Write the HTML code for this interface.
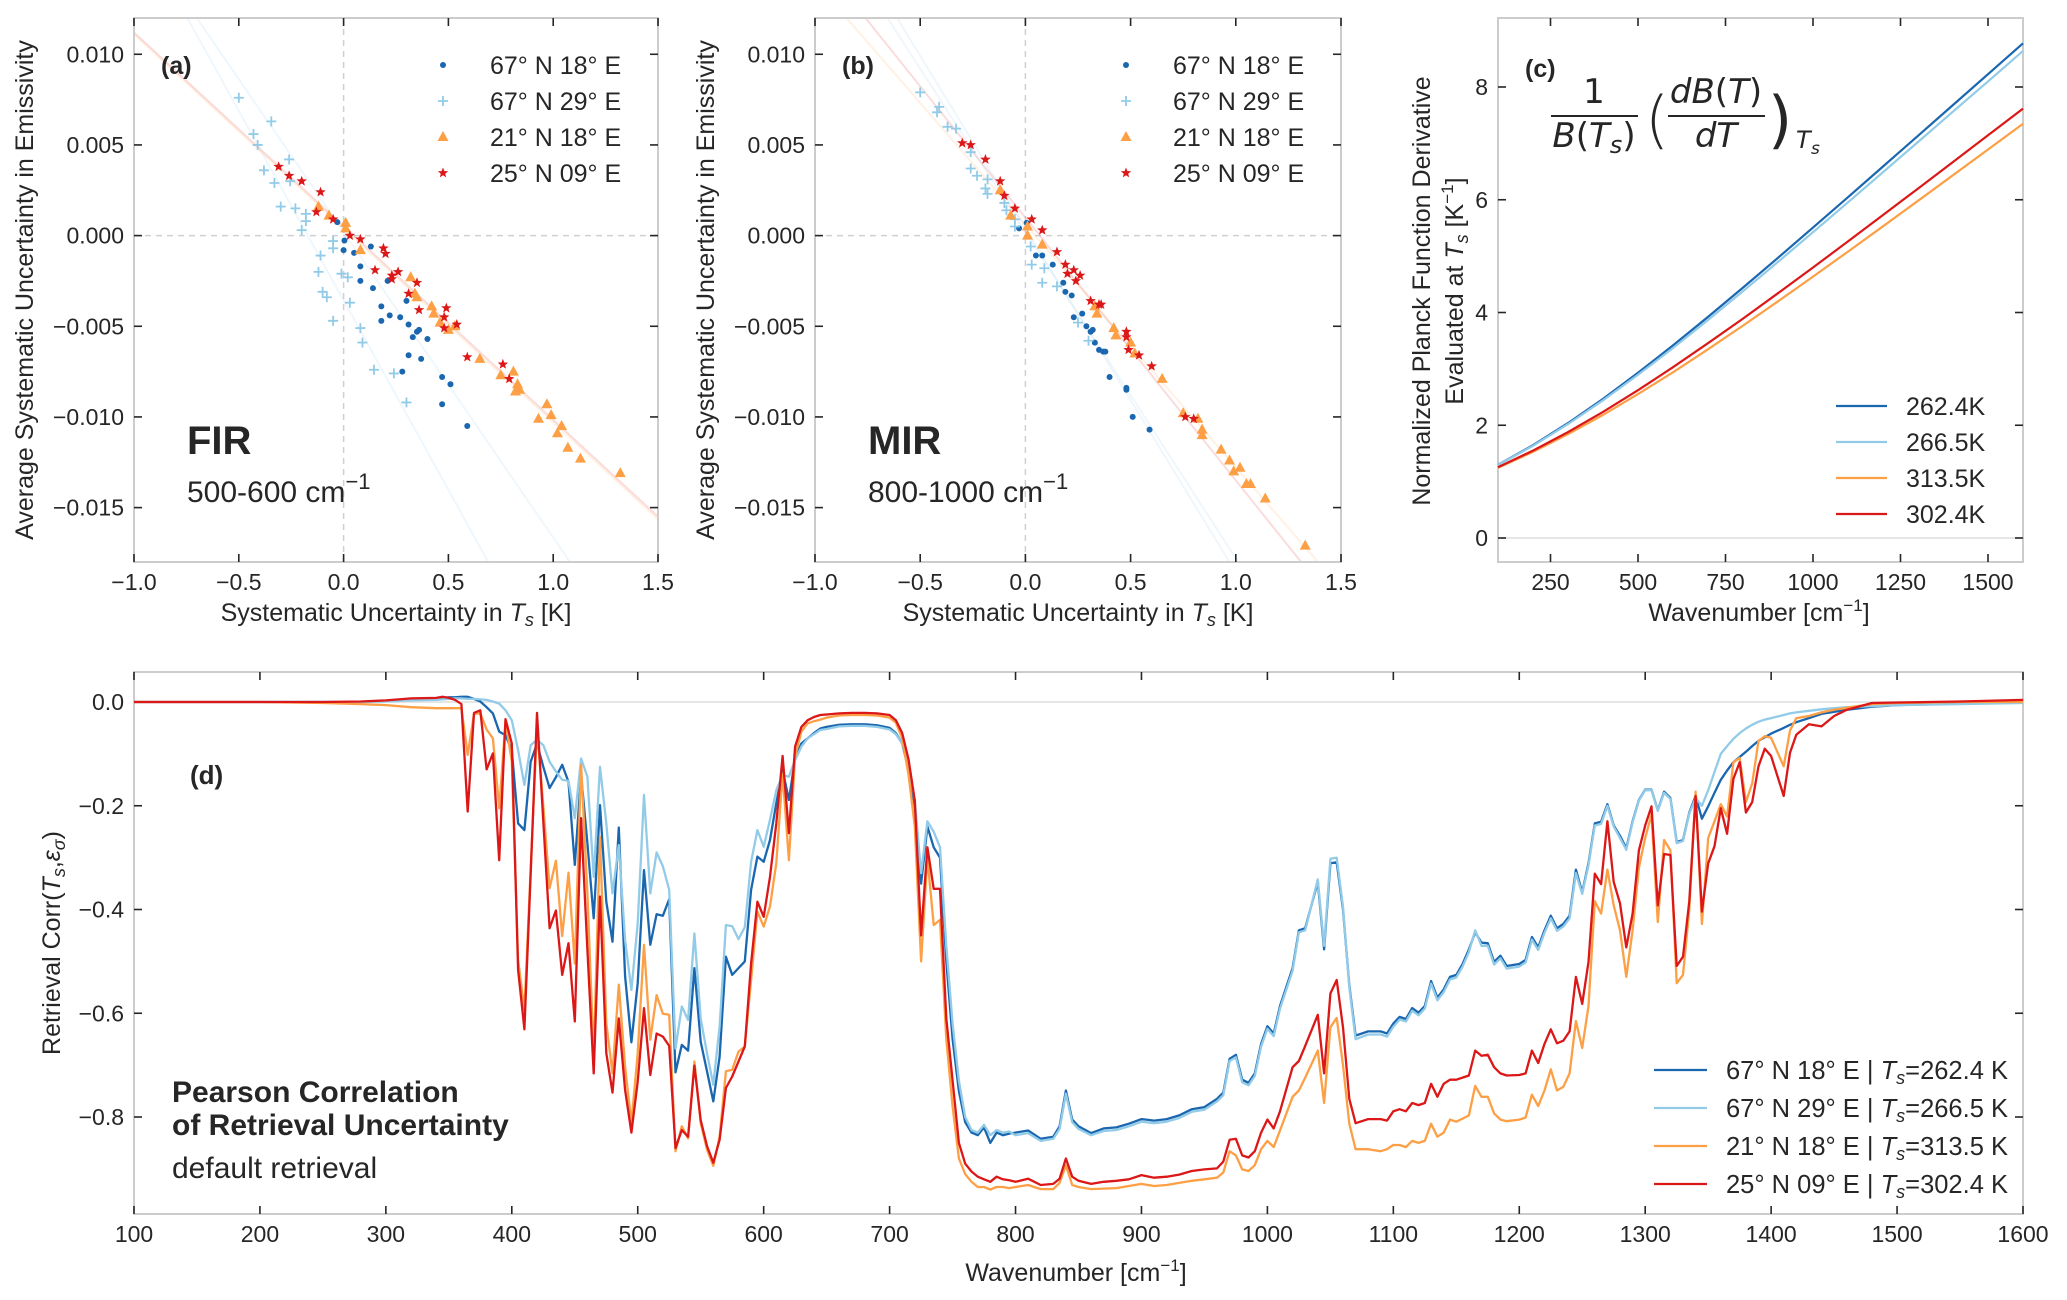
<!DOCTYPE html>
<html><head><meta charset="utf-8"><title>Retrieval uncertainty figure</title>
<style>
html,body{margin:0;padding:0;background:#fff;}
svg{display:block;font-family:"Liberation Sans",Arial,sans-serif;}
text{fill:#262626;}
</style></head>
<body>
<svg id="fig" xmlns="http://www.w3.org/2000/svg" width="2067" height="1300" viewBox="0 0 2067 1300"></svg>
<script>
// ---------- Panel (a) FIR scatter data ----------
const aDarkX=[-0.03,0.004,0,0.05,0.13,0.08,0.08,0.14,0.21,0.18,0.18,0.22,0.27,0.30,0.31,0.33,0.35,0.36,0.40,0.31,0.37,0.28,0.47,0.51,0.47,0.59];
const aDarkY=[0.00074,-0.00027,-0.0008,-0.00095,-0.0006,-0.0017,-0.0025,-0.0029,-0.0025,-0.0039,-0.0047,-0.0044,-0.0045,-0.0036,-0.0049,-0.0056,-0.0053,-0.0052,-0.0057,-0.0066,-0.0068,-0.0075,-0.0078,-0.0082,-0.0093,-0.0105];
const aLightX=[-0.50,-0.345,-0.43,-0.41,-0.26,-0.38,-0.33,-0.255,-0.30,-0.23,-0.18,-0.18,-0.2,-0.05,-0.05,-0.11,-0.12,-0.01,0.02,-0.1,-0.08,0.03,-0.05,0.08,0.09,0.145,0.24,0.30];
const aLightY=[0.0076,0.0063,0.0056,0.005,0.0042,0.0036,0.0029,0.003,0.0016,0.0015,0.0012,0.0008,0.0003,-0.0003,-0.0007,-0.0011,-0.002,-0.0021,-0.0023,-0.0031,-0.0034,-0.0037,-0.0047,-0.0051,-0.0059,-0.0074,-0.0076,-0.0092];
const aOrangeX=[-0.12,-0.07,0.01,0.01,0.08,0.32,0.34,0.35,0.42,0.43,0.46,0.50,0.53,0.65,0.75,0.81,0.83,0.84,0.82,0.97,0.99,0.93,1.04,1.02,1.07,1.13,1.32];
const aOrangeY=[0.0016,0.0011,0.0007,0.0004,-0.0008,-0.0023,-0.0032,-0.0034,-0.0039,-0.0043,-0.0048,-0.0052,-0.005,-0.0068,-0.0077,-0.0075,-0.0082,-0.0085,-0.0086,-0.0093,-0.0099,-0.0101,-0.0105,-0.0109,-0.0117,-0.0123,-0.0131];
const aRedX=[-0.31,-0.26,-0.20,-0.11,-0.13,-0.05,0.03,0.08,0.19,0.2,0.15,0.26,0.23,0.23,0.35,0.31,0.36,0.49,0.48,0.54,0.48,0.59,0.76,0.79];
const aRedY=[0.0038,0.0033,0.003,0.0024,0.0013,0.0009,0,-0.0002,-0.0007,-0.001,-0.0019,-0.002,-0.0022,-0.0024,-0.0026,-0.0032,-0.0041,-0.004,-0.0045,-0.0049,-0.0051,-0.0067,-0.0071,-0.0079];
const aFitSlopes=[-0.01068,-0.0209,-0.01685,-0.0107];
const aFitIntercepts=[0.00052,-0.00357,0.0002,0.0004];
// ---------- Panel (b) MIR scatter data ----------
const bDarkX=[-0.03,0.006,0.05,0.08,0.13,0.18,0.19,0.22,0.23,0.27,0.29,0.31,0.32,0.33,0.35,0.37,0.38,0.40,0.48,0.48,0.51,0.59];
const bDarkY=[0.0004,0.0007,-0.0011,-0.0011,-0.0016,-0.0026,-0.0031,-0.0033,-0.0045,-0.0043,-0.005,-0.0053,-0.0052,-0.0059,-0.0063,-0.0064,-0.0064,-0.0078,-0.0084,-0.0085,-0.01,-0.0107];
const bLightX=[-0.50,-0.41,-0.42,-0.37,-0.33,-0.26,-0.26,-0.23,-0.18,-0.19,-0.18,-0.1,-0.09,-0.05,-0.05,0.025,0.03,0.09,0.08,0.15,0.25,0.30];
const bLightY=[0.0079,0.0071,0.0068,0.006,0.0059,0.0046,0.0037,0.0033,0.0031,0.0026,0.0023,0.0018,0.0014,0.0009,0.0005,-0.0006,-0.0016,-0.0018,-0.0026,-0.0028,-0.0048,-0.0058];
const bOrangeX=[-0.12,-0.07,0.01,0.01,0.08,0.33,0.34,0.42,0.43,0.50,0.52,0.65,0.75,0.82,0.84,0.84,0.93,0.97,0.99,1.02,1.05,1.07,1.14,1.33];
const bOrangeY=[0.0025,0.0011,0.0005,0,-0.0005,-0.0039,-0.0043,-0.0051,-0.0055,-0.0059,-0.0065,-0.0079,-0.0098,-0.0101,-0.0107,-0.011,-0.0118,-0.0124,-0.013,-0.0128,-0.0137,-0.0137,-0.0145,-0.0171];
const bRedX=[-0.30,-0.26,-0.19,-0.12,-0.1,-0.05,0.03,0.08,0.15,0.19,0.2,0.23,0.26,0.24,0.31,0.35,0.36,0.48,0.48,0.49,0.54,0.60,0.76,0.80];
const bRedY=[0.0051,0.005,0.0042,0.003,0.0022,0.0015,0.0009,0.0003,-0.0009,-0.0016,-0.0021,-0.0019,-0.0022,-0.0025,-0.0036,-0.0038,-0.0038,-0.0053,-0.0056,-0.0063,-0.0066,-0.0072,-0.01,-0.0101];
const bFitSlopes=[-0.01449,-0.01339,-0.01899,-0.0180];
const bFitIntercepts=[0.00099,0.00062,0.00042,0.0002];
// ---------- Panel (c) Planck derivative ----------
const cWavenumbers=[100,200,300,400,500,600,700,800,900,1000,1100,1200,1300,1400,1500,1600];
const c262=[1.299,1.647,2.038,2.468,2.931,3.417,3.922,4.441,4.971,5.506,6.046,6.589,7.134,7.680,8.227,8.775];
const c266=[1.295,1.635,2.020,2.442,2.895,3.371,3.867,4.377,4.897,5.424,5.955,6.489,7.025,7.563,8.100,8.640];
const c313=[1.247,1.528,1.842,2.184,2.552,2.940,3.347,3.767,4.198,4.636,5.081,5.529,5.981,6.435,6.891,7.348];
const c302=[1.256,1.550,1.878,2.236,2.622,3.030,3.455,3.892,4.342,4.799,5.262,5.729,6.198,6.670,7.143,7.617];
const cLegendLabels=["262.4K","266.5K","313.5K","302.4K"];
// ---------- Panel (d) Pearson correlation ----------
const dWavenumbers=[100,150,200,250,280,300,320,340,345,350,355,
360,365,370,375,380,385,390,395,400,405,410,415,420,425,430,435,440,445,450,455,460,465,470,475,480,485,490,495,500,505,510,515,520,525,530,535,540,545,550,555,560,565,570,575,580,585,590,595,600,605,610,615,620,625,630,635,640,645,
650,660,670,680,690,700,705,710,715,720,725,730,735,740,745,750,755,760,765,770,775,780,785,790,795,
800,810,820,830,835,840,845,850,860,870,880,890,900,910,920,930,940,950,960,965,970,975,980,985,990,995,1000,1005,1010,1020,1025,1030,1040,1045,1050,1055,1060,1065,1070,1080,1090,1095,1100,1105,1110,1115,1120,1125,1130,1135,1140,1145,1150,1155,1160,1165,1170,1175,1180,1185,1190,1200,1205,1210,1215,1220,1225,1230,1235,1240,
1245,1250,1255,1260,1265,1270,1275,1280,1285,1290,1295,1300,1305,1310,1315,1320,1325,1330,1335,1340,1345,1350,1355,1360,1365,1370,1375,1380,1385,1390,1395,1400,
1410,1415,1420,1430,1440,1450,1460,1480,1500,1550,1600];
const dDark=[0,0,0,0,0,0.002,0.005,0.007,0.008,0.009,0.009,
0.010,0.010,0.006,0.001,-0.010,-0.022,-0.057,-0.064,-0.093,-0.234,-0.247,-0.115,-0.080,-0.125,-0.166,-0.145,-0.121,-0.154,-0.314,-0.141,-0.272,-0.417,-0.199,-0.385,-0.462,-0.242,-0.529,-0.656,-0.542,-0.324,-0.468,-0.409,-0.412,-0.380,-0.714,-0.661,-0.672,-0.513,-0.655,-0.712,-0.770,-0.684,-0.491,-0.526,-0.513,-0.500,-0.362,-0.298,-0.308,-0.266,-0.195,-0.131,-0.189,-0.109,-0.080,-0.070,-0.060,-0.051,
-0.048,-0.044,-0.043,-0.043,-0.045,-0.050,-0.060,-0.08,-0.13,-0.20,-0.35,-0.24,-0.28,-0.30,-0.50,-0.65,-0.75,-0.81,-0.83,-0.835,-0.82,-0.85,-0.83,-0.835,-0.832,
-0.830,-0.826,-0.842,-0.838,-0.818,-0.749,-0.805,-0.818,-0.831,-0.822,-0.820,-0.813,-0.804,-0.807,-0.804,-0.797,-0.785,-0.781,-0.765,-0.753,-0.688,-0.680,-0.728,-0.734,-0.716,-0.659,-0.625,-0.639,-0.586,-0.513,-0.440,-0.436,-0.347,-0.477,-0.311,-0.309,-0.400,-0.546,-0.643,-0.635,-0.635,-0.639,-0.620,-0.607,-0.611,-0.590,-0.599,-0.586,-0.538,-0.570,-0.554,-0.530,-0.526,-0.505,-0.477,-0.444,-0.464,-0.465,-0.501,-0.489,-0.509,-0.505,-0.497,-0.453,-0.473,-0.440,-0.412,-0.436,-0.428,-0.412,
-0.323,-0.367,-0.311,-0.234,-0.231,-0.197,-0.238,-0.258,-0.282,-0.230,-0.189,-0.169,-0.169,-0.209,-0.173,-0.185,-0.270,-0.266,-0.213,-0.181,-0.225,-0.201,-0.175,-0.150,-0.132,-0.116,-0.106,-0.096,-0.085,-0.075,-0.068,-0.061,
-0.050,-0.044,-0.039,-0.031,-0.023,-0.019,-0.015,-0.009,-0.006,-0.003,-0.001];
const dLight=[0,0,0,0,0,0.001,0.003,0.004,0.005,0.006,0.007,
0.007,0.006,0.006,0.005,0.004,0.001,-0.003,-0.016,-0.035,-0.093,-0.160,-0.083,-0.073,-0.083,-0.115,-0.134,-0.150,-0.152,-0.224,-0.109,-0.144,-0.337,-0.125,-0.234,-0.369,-0.276,-0.459,-0.555,-0.427,-0.179,-0.369,-0.290,-0.317,-0.362,-0.668,-0.587,-0.613,-0.446,-0.610,-0.677,-0.738,-0.626,-0.430,-0.432,-0.457,-0.434,-0.308,-0.247,-0.279,-0.227,-0.170,-0.141,-0.144,-0.112,-0.086,-0.070,-0.062,-0.054,
-0.052,-0.047,-0.046,-0.046,-0.048,-0.053,-0.062,-0.08,-0.12,-0.19,-0.33,-0.23,-0.25,-0.28,-0.47,-0.62,-0.73,-0.80,-0.825,-0.83,-0.815,-0.835,-0.825,-0.83,-0.828,
-0.835,-0.831,-0.846,-0.842,-0.823,-0.755,-0.810,-0.823,-0.835,-0.827,-0.825,-0.818,-0.809,-0.812,-0.809,-0.802,-0.790,-0.786,-0.770,-0.758,-0.692,-0.685,-0.733,-0.739,-0.721,-0.664,-0.630,-0.644,-0.591,-0.518,-0.444,-0.440,-0.342,-0.470,-0.302,-0.300,-0.395,-0.550,-0.650,-0.641,-0.641,-0.645,-0.626,-0.612,-0.616,-0.595,-0.604,-0.591,-0.543,-0.575,-0.559,-0.535,-0.531,-0.510,-0.482,-0.440,-0.470,-0.470,-0.506,-0.494,-0.514,-0.510,-0.502,-0.458,-0.478,-0.445,-0.417,-0.441,-0.433,-0.417,
-0.33,-0.37,-0.315,-0.238,-0.235,-0.20,-0.24,-0.262,-0.285,-0.232,-0.19,-0.17,-0.17,-0.21,-0.175,-0.187,-0.272,-0.268,-0.215,-0.185,-0.20,-0.17,-0.135,-0.10,-0.085,-0.071,-0.060,-0.051,-0.044,-0.038,-0.034,-0.031,
-0.025,-0.022,-0.020,-0.017,-0.014,-0.012,-0.010,-0.008,-0.006,-0.004,-0.002];
const dOrange=[0,0,0,-0.002,-0.004,-0.006,-0.010,-0.012,-0.012,-0.012,-0.012,
-0.012,-0.102,-0.023,-0.022,-0.053,-0.070,-0.205,-0.038,-0.115,-0.497,-0.594,-0.32,-0.05,-0.20,-0.359,-0.306,-0.451,-0.329,-0.504,-0.121,-0.369,-0.684,-0.260,-0.619,-0.716,-0.545,-0.703,-0.812,-0.677,-0.468,-0.651,-0.565,-0.601,-0.603,-0.866,-0.818,-0.841,-0.693,-0.812,-0.863,-0.894,-0.838,-0.712,-0.709,-0.674,-0.664,-0.536,-0.404,-0.433,-0.394,-0.311,-0.138,-0.305,-0.105,-0.057,-0.041,-0.037,-0.034,
-0.030,-0.026,-0.025,-0.025,-0.026,-0.030,-0.040,-0.07,-0.14,-0.24,-0.50,-0.30,-0.43,-0.42,-0.65,-0.78,-0.88,-0.91,-0.925,-0.935,-0.935,-0.94,-0.935,-0.935,-0.937,
-0.935,-0.931,-0.939,-0.939,-0.927,-0.893,-0.931,-0.935,-0.939,-0.938,-0.937,-0.933,-0.929,-0.933,-0.931,-0.927,-0.923,-0.920,-0.917,-0.907,-0.866,-0.874,-0.901,-0.904,-0.893,-0.862,-0.846,-0.858,-0.826,-0.761,-0.749,-0.724,-0.672,-0.773,-0.627,-0.609,-0.700,-0.813,-0.862,-0.862,-0.866,-0.862,-0.854,-0.854,-0.858,-0.846,-0.850,-0.846,-0.813,-0.838,-0.830,-0.805,-0.809,-0.803,-0.797,-0.740,-0.761,-0.761,-0.793,-0.805,-0.808,-0.805,-0.801,-0.757,-0.779,-0.749,-0.708,-0.749,-0.742,-0.716,
-0.615,-0.667,-0.586,-0.384,-0.408,-0.323,-0.392,-0.440,-0.530,-0.440,-0.319,-0.262,-0.217,-0.424,-0.266,-0.286,-0.542,-0.526,-0.400,-0.173,-0.428,-0.262,-0.230,-0.197,-0.221,-0.116,-0.108,-0.193,-0.157,-0.075,-0.066,-0.069,
-0.124,-0.055,-0.031,-0.027,-0.020,-0.015,-0.011,-0.004,-0.002,0.0,0.0];
const dRed=[0,0,0,0,0.001,0.003,0.007,0.008,0.010,0.008,0.004,
-0.004,-0.211,-0.021,-0.016,-0.130,-0.099,-0.305,-0.033,-0.080,-0.516,-0.631,-0.33,-0.021,-0.23,-0.436,-0.402,-0.526,-0.465,-0.616,-0.224,-0.478,-0.716,-0.375,-0.677,-0.753,-0.610,-0.748,-0.830,-0.732,-0.590,-0.719,-0.639,-0.645,-0.663,-0.860,-0.825,-0.838,-0.701,-0.806,-0.856,-0.888,-0.844,-0.744,-0.722,-0.693,-0.664,-0.504,-0.385,-0.414,-0.337,-0.234,-0.104,-0.253,-0.086,-0.048,-0.035,-0.029,-0.025,
-0.024,-0.022,-0.021,-0.021,-0.022,-0.025,-0.035,-0.06,-0.11,-0.19,-0.45,-0.28,-0.36,-0.36,-0.61,-0.73,-0.85,-0.89,-0.905,-0.915,-0.92,-0.925,-0.915,-0.92,-0.922,
-0.925,-0.919,-0.931,-0.929,-0.919,-0.880,-0.915,-0.923,-0.929,-0.925,-0.923,-0.920,-0.912,-0.917,-0.915,-0.911,-0.904,-0.901,-0.899,-0.886,-0.844,-0.842,-0.874,-0.878,-0.866,-0.830,-0.805,-0.822,-0.789,-0.704,-0.692,-0.663,-0.603,-0.716,-0.562,-0.536,-0.627,-0.765,-0.812,-0.804,-0.804,-0.807,-0.789,-0.785,-0.789,-0.773,-0.777,-0.773,-0.736,-0.761,-0.736,-0.728,-0.728,-0.724,-0.720,-0.672,-0.682,-0.680,-0.704,-0.716,-0.720,-0.719,-0.716,-0.672,-0.696,-0.659,-0.631,-0.658,-0.653,-0.635,
-0.530,-0.582,-0.501,-0.331,-0.351,-0.230,-0.347,-0.388,-0.473,-0.408,-0.286,-0.238,-0.201,-0.392,-0.293,-0.295,-0.509,-0.491,-0.384,-0.181,-0.404,-0.311,-0.278,-0.205,-0.254,-0.148,-0.116,-0.213,-0.193,-0.124,-0.090,-0.104,
-0.181,-0.098,-0.063,-0.043,-0.047,-0.027,-0.015,-0.002,-0.001,0.001,0.004];
const dXTicks=[100,200,300,400,500,600,700,800,900,1000,1100,1200,1300,1400,1500,1600];
const dYTicks=[0,-0.2,-0.4,-0.6,-0.8];
const dYTickLabels=["0.0","\u22120.2","\u22120.4","\u22120.6","\u22120.8"];
const scXTicks=[-1.0,-0.5,0,0.5,1.0,1.5];
const scXTickLabels=["\u22121.0","\u22120.5","0.0","0.5","1.0","1.5"];
const scYTicks=[0.010,0.005,0,-0.005,-0.010,-0.015];
const scYTickLabels=["0.010","0.005","0.000","\u22120.005","\u22120.010","\u22120.015"];
const cXTicks=[250,500,750,1000,1250,1500];
const cYTicks=[0,2,4,6,8];
const siteLabels=["67\u00b0 N 18\u00b0 E","67\u00b0 N 29\u00b0 E","21\u00b0 N 18\u00b0 E","25\u00b0 N 09\u00b0 E"];

const COL={dark:"#1a67b0",light:"#92cbe8",orange:"#fd9f45",red:"#dc1717"};
const NS="http://www.w3.org/2000/svg";
const svg=document.getElementById("fig");
function mk(tag,attrs,parent){const e=document.createElementNS(NS,tag);for(const k in attrs)e.setAttribute(k,attrs[k]);(parent||svg).appendChild(e);return e;}
function txt(x,y,s,size,anchor,parent,extra){const t=mk("text",Object.assign({x:x,y:y,"font-size":size,"text-anchor":anchor||"start"},extra||{}),parent);t.textContent=s;return t;}
function scale(d0,d1,p0,p1){return v=>p0+(v-d0)*(p1-p0)/(d1-d0);}

function axesFrame(g,L,T,R,B,name){
  const r=mk("rect",{x:L,y:T,width:R-L,height:B-T,fill:"none",stroke:"#cccccc","stroke-width":2},g);
  
  
}
function ticks(g,xs,ys,L,T,R,B,sx,sy,xl,yl,name){
  const tg=mk("g",{},g);
  
  
  xs.forEach((v,i)=>{const x=sx(v);
    mk("line",{x1:x,y1:B,x2:x,y2:B-8,stroke:"#262626","stroke-width":1.6},tg);
    mk("line",{x1:x,y1:T,x2:x,y2:T+8,stroke:"#262626","stroke-width":1.6},tg);
    const t=txt(x,B+28,xl[i],23,"middle",tg);
    
    
  });
  ys.forEach((v,i)=>{const y=sy(v);
    mk("line",{x1:L,y1:y,x2:L+8,y2:y,stroke:"#262626","stroke-width":1.6},tg);
    mk("line",{x1:R,y1:y,x2:R-8,y2:y,stroke:"#262626","stroke-width":1.6},tg);
    const t=txt(L-10,y+8,yl[i],23,"end",tg);
    
    
  });
}
function marker(kind,x,y,color,parent){
  let e;
  if(kind==="dot"){e=mk("circle",{cx:x,cy:y,r:3,fill:color},parent);}
  else if(kind==="plus"){e=mk("path",{d:`M${x-5} ${y}H${x+5}M${x} ${y-5}V${y+5}`,stroke:color,"stroke-width":1.8,fill:"none"},parent);}
  else if(kind==="tri"){e=mk("polygon",{points:`${x},${y-6} ${x+5.5},${y+4} ${x-5.5},${y+4}`,fill:color},parent);}
  else {let p=[];for(let k=0;k<10;k++){const a=-Math.PI/2+k*Math.PI/5;const rr=k%2?2.3:5.5;p.push((x+rr*Math.cos(a)).toFixed(1)+","+(y+rr*Math.sin(a)).toFixed(1));}
    e=mk("polygon",{points:p.join(" "),fill:color},parent);}
  return e;
}

function scatterPanel(opt){
  const {L,R,T,B,name}=opt;
  const g=mk("g",{});
  
  
  const sx=scale(-1,1.5,L,R), sy=scale(0.012,-0.018,T,B);
  const cp=mk("clipPath",{id:name+"-clip"},g);mk("rect",{x:L,y:T,width:R-L,height:B-T},cp);
  const z1=mk("line",{x1:L,y1:sy(0),x2:R,y2:sy(0),stroke:"#d0d0d0","stroke-width":1.5,"stroke-dasharray":"6,5"},g);
  
  
  const z2=mk("line",{x1:sx(0),y1:T,x2:sx(0),y2:B,stroke:"#d0d0d0","stroke-width":1.5,"stroke-dasharray":"6,5"},g);
  
  
  const fitCols=opt.fitCols;
  const fg=mk("g",{"clip-path":`url(#${name}-clip)`},g);
  
  
  opt.slopes.forEach((m,i)=>{const b=opt.ints[i];
    const l=mk("line",{x1:sx(-1),y1:sy(b+m*-1),x2:sx(1.5),y2:sy(b+m*1.5),stroke:fitCols[i],"stroke-width":2,"stroke-opacity":0.15},fg);
    
    
  });
  axesFrame(g,L,T,R,B,name);
  ticks(g,scXTicks,scYTicks,L,T,R,B,sx,sy,scXTickLabels,scYTickLabels,name);
  const series=[["dot",COL.dark,opt.dx,opt.dy],["plus",COL.light,opt.lx,opt.ly],["tri",COL.orange,opt.ox,opt.oy],["star",COL.red,opt.rx,opt.ry]];
  series.forEach((s,si)=>{
    const sg=mk("g",{},g);
    
    
    s[2].forEach((xv,i)=>{const m=marker(s[0],sx(xv),sy(s[3][i]),s[1],sg);
      
      });
  });
  const lg=mk("g",{},g);
  
  
  series.forEach((s,i)=>{const y=65+i*36;
    const m=marker(s[0],opt.legX,y,s[1],lg);
    
    
    const t=txt(opt.legX+47,y+9,siteLabels[i],25,"start",lg);
    
    
  });
  const pl=txt(L+27,74,opt.letter,25,"start",g,{"font-weight":"bold"});
  
  
  const big=txt(L+53,454,opt.band,40,"start",g,{"font-weight":"bold"});
  
  
  const rng=mk("text",{x:L+53,y:502,"font-size":30},g);
  
  
  rng.innerHTML=opt.range+' cm<tspan dy="-13" font-size="22">\u22121</tspan>';
  const xl=mk("text",{x:(L+R)/2,y:621,"font-size":25,"text-anchor":"middle"},g);
  
  
  xl.innerHTML='Systematic Uncertainty in <tspan font-style="italic">T</tspan><tspan font-style="italic" font-size="18" dy="5">s</tspan><tspan dy="-5"> [K]</tspan>';
  const yl=txt(0,0,"Average Systematic Uncertainty in Emissivity",25,"middle",g,{transform:`translate(${L-101},290) rotate(-90)`});
  
  
}

scatterPanel({name:"panel-a-fir",L:134,R:658,T:18,B:562,letter:"(a)",band:"FIR",range:"500-600",legX:443,
  dx:aDarkX,dy:aDarkY,lx:aLightX,ly:aLightY,ox:aOrangeX,oy:aOrangeY,rx:aRedX,ry:aRedY,
  slopes:aFitSlopes,ints:aFitIntercepts,fitCols:[COL.red,COL.light,COL.light,COL.orange]});
scatterPanel({name:"panel-b-mir",L:815,R:1341,T:18,B:562,letter:"(b)",band:"MIR",range:"800-1000",legX:1126,
  dx:bDarkX,dy:bDarkY,lx:bLightX,ly:bLightY,ox:bOrangeX,oy:bOrangeY,rx:bRedX,ry:bRedY,
  slopes:bFitSlopes,ints:bFitIntercepts,fitCols:[COL.red,COL.orange,COL.light,COL.light]});

// ---------- Panel c ----------
(function(){
  const L=1498,R=2023,T=18,B=562,name="panel-c-planck";
  const g=mk("g",{});
  
  
  const sx=scale(100,1600,L,R), sy=scale(0,8,538,87);
  const zl=mk("line",{x1:L,y1:sy(0),x2:R,y2:sy(0),stroke:"#dddddd","stroke-width":1.5},g);
  
  
  axesFrame(g,L,T,R,B,name);
  ticks(g,cXTicks,cYTicks,L,T,R,B,sx,sy,cXTicks.map(String),cYTicks.map(String),name);
  const series=[[c262,COL.dark],[c266,COL.light],[c313,COL.orange],[c302,COL.red]];
  series.forEach((s,i)=>{
    const d=s[0].map((v,k)=>(k?"L":"M")+sx(cWavenumbers[k]).toFixed(1)+" "+sy(v).toFixed(1)).join("");
    const p=mk("path",{d:d,fill:"none",stroke:s[1],"stroke-width":2.2},g);
    
    
    const y=406+i*36;
    const ll=mk("line",{x1:1836,y1:y,x2:1887,y2:y,stroke:s[1],"stroke-width":2.2},g);
    
    
    const t=txt(1906,y+9,cLegendLabels[i],25,"start",g);
    
    
  });
  const pl=txt(1525,77,"(c)",25,"start",g,{"font-weight":"bold"});
  
  
  const fm=mk("g",{"font-family":"DejaVu Sans, sans-serif"},g);
  
  
  txt(1594,103,"1",34,"middle",fm);
  mk("line",{x1:1551,y1:116,x2:1638,y2:116,stroke:"#262626","stroke-width":2},fm);
  const bt=mk("text",{x:1594,y:147,"font-size":34,"text-anchor":"middle"},fm);
  bt.innerHTML='<tspan font-style="italic">B</tspan>(<tspan font-style="italic">T</tspan><tspan font-style="italic" font-size="24" dy="6">s</tspan><tspan dy="-6">)</tspan>';
  txt(1645,141,"(",62,"start",fm,{"font-weight":"100"});
  const nt=mk("text",{x:1716,y:103,"font-size":34,"text-anchor":"middle"},fm);
  nt.innerHTML='<tspan font-style="italic">dB</tspan>(<tspan font-style="italic">T</tspan>)';
  mk("line",{x1:1668,y1:116,x2:1765,y2:116,stroke:"#262626","stroke-width":2},fm);
  txt(1716,147,"dT",34,"middle",fm,{"font-style":"italic"});
  txt(1768,141,")",62,"start",fm);
  txt(1796,148,"T",24,"start",fm,{"font-style":"italic"});
  txt(1811,154,"s",17,"start",fm,{"font-style":"italic"});
  const xl=mk("text",{x:1759,y:621,"font-size":25,"text-anchor":"middle"},g);
  
  
  xl.innerHTML='Wavenumber [cm<tspan dy="-10" font-size="17">\u22121</tspan><tspan dy="10">]</tspan>';
  const y1=txt(0,0,"Normalized Planck Function Derivative",25,"middle",g,{transform:"translate(1430,291) rotate(-90)"});
  
  
  const y2=mk("text",{"font-size":25,"text-anchor":"middle",transform:"translate(1463,291) rotate(-90)"},g);
  
  
  y2.innerHTML='Evaluated at <tspan font-style="italic">T</tspan><tspan font-style="italic" font-size="18" dy="5">s</tspan><tspan dy="-5"> [K</tspan><tspan dy="-10" font-size="17">\u22121</tspan><tspan dy="10">]</tspan>';
})();

// ---------- Panel d ----------
(function(){
  const L=134,R=2023,T=672,B=1214,name="panel-d-correlation";
  const g=mk("g",{});
  
  
  const sx=scale(100,1600,L,R), sy=scale(0,-0.8,702,1117);
  const zl=mk("line",{x1:L,y1:sy(0),x2:R,y2:sy(0),stroke:"#dddddd","stroke-width":1.5},g);
  
  
  axesFrame(g,L,T,R,B,name);
  ticks(g,dXTicks,dYTicks,L,T,R,B,sx,sy,dXTicks.map(String),dYTickLabels,name);
  const series=[[dDark,COL.dark],[dLight,COL.light],[dOrange,COL.orange],[dRed,COL.red]];
  const lab=[["67\u00b0 N 18\u00b0 E | ","=262.4 K"],["67\u00b0 N 29\u00b0 E | ","=266.5 K"],["21\u00b0 N 18\u00b0 E | ","=313.5 K"],["25\u00b0 N 09\u00b0 E | ","=302.4 K"]];
  series.forEach((s,i)=>{
    const d=s[0].map((v,k)=>(k?"L":"M")+sx(dWavenumbers[k]).toFixed(1)+" "+sy(v).toFixed(1)).join("");
    const p=mk("path",{d:d,fill:"none",stroke:s[1],"stroke-width":2.3,"stroke-linejoin":"round"},g);
    
    
  });
  series.forEach((s,i)=>{
    const y=1070+i*38;
    const ll=mk("line",{x1:1654,y1:y,x2:1707,y2:y,stroke:s[1],"stroke-width":2.3},g);
    
    
    const t=mk("text",{x:1726,y:y+9,"font-size":25.5},g);
    
    
    t.innerHTML=lab[i][0]+'<tspan font-style="italic">T</tspan><tspan font-style="italic" font-size="18" dy="5">s</tspan><tspan dy="-5">'+lab[i][1]+'</tspan>';
  });
  const pl=txt(190,784,"(d)",26,"start",g,{"font-weight":"bold"});
  
  
  const a1=txt(172,1102,"Pearson Correlation",30,"start",g,{"font-weight":"bold"});
  
  
  const a2=txt(172,1135,"of Retrieval Uncertainty",30,"start",g,{"font-weight":"bold"});
  
  
  const a3=txt(172,1178,"default retrieval",30,"start",g);
  
  
  const xl=mk("text",{x:1076,y:1281,"font-size":25,"text-anchor":"middle"},g);
  
  
  xl.innerHTML='Wavenumber [cm<tspan dy="-10" font-size="17">\u22121</tspan><tspan dy="10">]</tspan>';
  const yl=mk("text",{"font-size":25,"text-anchor":"middle",transform:"translate(60,943) rotate(-90)"},g);
  
  
  yl.innerHTML='Retrieval Corr(<tspan font-style="italic">T</tspan><tspan font-style="italic" font-size="18" dy="5">s</tspan><tspan dy="-5">,</tspan><tspan font-style="italic">\u03b5</tspan><tspan font-style="italic" font-size="18" dy="5">\u03c3</tspan><tspan dy="-5">)</tspan>';
})();
</script>
</body></html>
